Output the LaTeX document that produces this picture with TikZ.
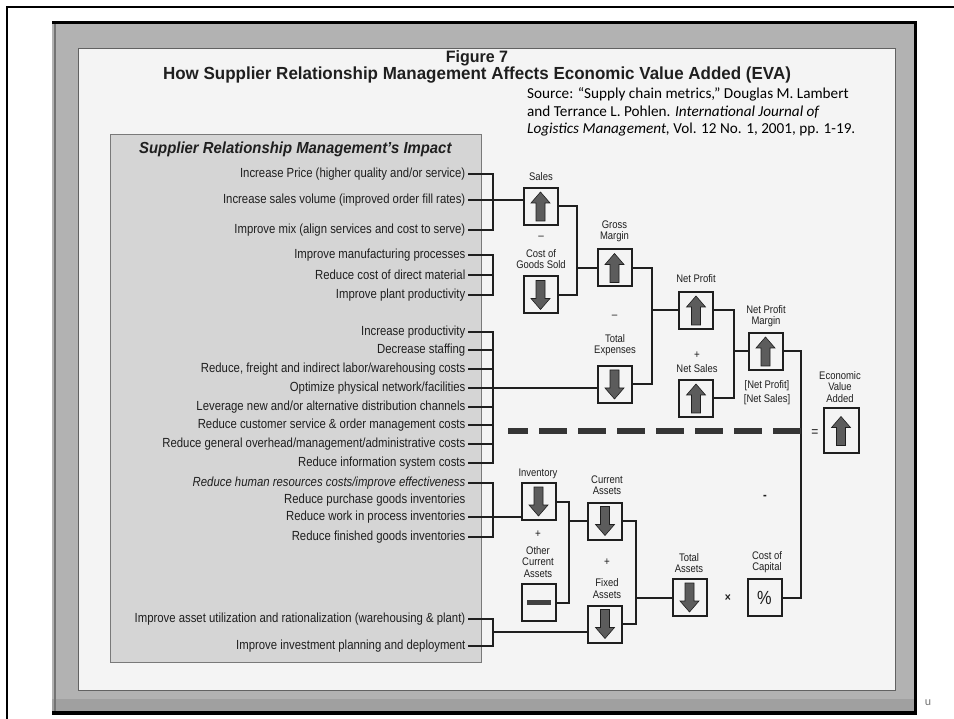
\documentclass[tikz,border=0pt]{standalone}
\usepackage{fontspec}
\setmainfont{Liberation Sans}
\newfontfamily\cond{Liberation Sans}[FakeStretch=0.86]
\newfontfamily\ttl{Liberation Sans}[FakeStretch=0.97]
\newfontfamily\hdrfont{Liberation Sans}[FakeStretch=0.93]
\newfontfamily\srcfont{Carlito}
\usetikzlibrary{calc}

\definecolor{ink}{HTML}{1F1F1F}
\definecolor{panelgray}{HTML}{D5D5D5}
\definecolor{scangray}{HTML}{B2B2B2}
\definecolor{bandgray}{HTML}{A0A0A0}
\definecolor{paper}{HTML}{F4F4F4}
\definecolor{arrowfill}{HTML}{5C5C5C}

\tikzset{
  item/.style={anchor=east, inner ysep=0pt, inner xsep=2.5pt, text=ink,
               font=\cond\fontsize{13.2}{15}\selectfont},
  lbl/.style={inner sep=0pt, align=center, text=ink,
              font=\cond\fontsize{11}{11.2}\selectfont},
  sign/.style={inner sep=0pt, text=ink, font=\cond\fontsize{11.5}{12}\selectfont},
  bx/.style={draw=ink, line width=2pt, fill=paper, minimum width=34pt,
             minimum height=37pt, inner sep=0pt},
  conn/.style={draw=ink, line width=2pt},
  brk/.style={draw=ink, line width=2.6pt},
  tick/.style={draw=ink, line width=1.4pt},
  uparr/.pic={\filldraw[fill=arrowfill, draw=ink, line width=0.6pt]
     (-4.5,14.5) -- (4.5,14.5) -- (4.5,-3.5) -- (9.5,-3.5) -- (0,-14.5)
     -- (-9.5,-3.5) -- (-4.5,-3.5) -- cycle;},
  dnarr/.pic={\filldraw[fill=arrowfill, draw=ink, line width=0.6pt]
     (-4.5,-14.5) -- (4.5,-14.5) -- (4.5,3.5) -- (9.5,3.5) -- (0,14.5)
     -- (-9.5,3.5) -- (-4.5,3.5) -- cycle;},
}

\begin{document}
\begin{tikzpicture}[x=1pt, y=-1pt]
\useasboundingbox (0,0) rectangle (954,719);
\fill[white] (0,0) rectangle (954,719);

% slide border
\draw[black, line width=2.4pt] (7,719) -- (7,7) -- (954,7);

% scanned figure frame
\fill[scangray] (52,21) rectangle (917,715);
\fill[bandgray] (52,699) rectangle (914,711);
\draw[black!55, line width=2.5pt] (55,24) -- (55,711);
\draw[black, line width=3pt] (52,22.5) -- (915.5,22.5) -- (915.5,713);
\draw[black, line width=4pt] (52,713) -- (917,713);
\filldraw[fill=paper, draw=ink!70, line width=0.9pt] (78,48) rectangle (895,690);

% titles
\node[inner sep=0pt, text=ink, font=\ttl\bfseries\fontsize{16.5}{19}\selectfont] (fig) at (477,58) {Figure 7};
\node[inner sep=0pt, text=ink, font=\ttl\bfseries\fontsize{17.5}{20}\selectfont] (title) at (477,75.5)
  {How Supplier Relationship Management Affects Economic Value Added (EVA)};

% source
\node[anchor=north west, inner sep=0pt, align=left, font=\srcfont\fontsize{15.2}{17.6}\selectfont] (src) at (527,87.5)
  {Source: “Supply chain metrics,” Douglas M. Lambert\\
   and Terrance L. Pohlen. \textit{International Journal of}\\
   \textit{Logistics Management,} Vol. 12 No. 1, 2001, pp. 1-19.};

% impact panel
\filldraw[fill=panelgray, draw=ink!60, line width=0.8pt] (110,134) rectangle (481,662);
\node[anchor=west, inner sep=0pt, text=ink, font=\hdrfont\bfseries\itshape\fontsize{16}{18}\selectfont] (hdr) at (139,149)
  {Supplier Relationship Management’s Impact};

\node[item] (i1)  at (468,174) {Increase Price (higher quality and/or service)};
\node[item] (i2)  at (468,200) {Increase sales volume (improved order fill rates)};
\node[item] (i3)  at (468,230) {Improve mix (align services and cost to serve)};
\node[item] (i4)  at (468,255) {Improve manufacturing processes};
\node[item] (i5)  at (468,275) {Reduce cost of direct material};
\node[item] (i6)  at (468,295) {Improve plant productivity};
\node[item] (i7)  at (468,332) {Increase productivity};
\node[item] (i8)  at (468,350) {Decrease staffing};
\node[item] (i9)  at (468,369) {Reduce, freight and indirect labor/warehousing costs};
\node[item] (i10) at (468,388) {Optimize physical network/facilities};
\node[item] (i11) at (468,407) {Leverage new and/or alternative distribution channels};
\node[item] (i12) at (468,425) {Reduce customer service \& order management costs};
\node[item] (i13) at (468,444) {Reduce general overhead/management/administrative costs};
\node[item] (i14) at (468,463) {Reduce information system costs};
\node[item, font=\cond\itshape\fontsize{13.2}{15}\selectfont] (i15) at (468,483) {Reduce human resources costs/improve effectiveness};
\node[item] (i16) at (468,500) {Reduce purchase goods inventories};
\node[item] (i17) at (468,517) {Reduce work in process inventories};
\node[item] (i18) at (468,537) {Reduce finished goods inventories};
\node[item] (i19) at (468,619) {Improve asset utilization and rationalization (warehousing \& plant)};
\node[item] (i20) at (468,646) {Improve investment planning and deployment};

% metric boxes
\node[bx] (sales) at (540.5,206.5) {};
\node[bx] (cogs)  at (540.5,295)   {};
\node[bx] (gm)    at (614.5,268)   {};
\node[bx] (te)    at (614.5,384.5) {};
\node[bx] (np)    at (696,310.5)   {};
\node[bx] (ns)    at (696,398.5)   {};
\node[bx] (npm)   at (765.5,351.5) {};
\node[bx, minimum width=35pt, minimum height=45pt] (eva) at (841,431) {};
\node[bx] (inv)   at (538.5,501.5) {};
\node[bx] (oca)   at (538.5,602.5) {};
\node[bx] (ca)    at (605,521)     {};
\node[bx] (fa)    at (605,624)     {};
\node[bx] (ta)    at (689.5,597.5) {};
\node[bx, font=\cond\fontsize{19}{20}\selectfont, text=ink] (coc) at (764.5,597.5) {\%};

\pic at (sales) {uparr};
\pic at (cogs)  {dnarr};
\pic at (gm)    {uparr};
\pic at (te)    {dnarr};
\pic at (np)    {uparr};
\pic at (ns)    {uparr};
\pic at (npm)   {uparr};
\pic at (eva)   {uparr};
\pic at (inv)   {dnarr};
\pic at (ca)    {dnarr};
\pic at (fa)    {dnarr};
\pic at (ta)    {dnarr};
\fill[ink!85] ($(oca)+(-12,-2.5)$) rectangle ($(oca)+(12,2.5)$);

% labels and operators
\node[lbl] (lsales) at (541,177) {Sales};
\node[sign] (m1) at (541,238) {–};
\node[lbl] (lcogs) at (541,259) {Cost of\\Goods Sold};
\node[lbl] (lgm) at (614.5,231) {Gross\\Margin};
\node[sign] (m2) at (614.5,317) {–};
\node[lbl] (lte) at (615,345) {Total\\Expenses};
\node[lbl] (lnp) at (696,279) {Net Profit};
\node[sign] (p1) at (697,355) {+};
\node[lbl] (lns) at (697,369) {Net Sales};
\node[lbl] (lnpm) at (766,316) {Net Profit\\Margin};
\node[lbl] (frac1) at (767,386) {[Net Profit]};
\node[lbl] (frac2) at (767,400) {[Net Sales]};
\node[lbl] (leva) at (840,387) {Economic\\Value\\Added};
\node[sign, font=\cond\fontsize{14}{15}\selectfont] (eq) at (815,433) {=};
\node[sign, font=\cond\bfseries\fontsize{13}{14}\selectfont] (m3) at (765,497) {-};
\node[lbl] (linv) at (538,474) {Inventory};
\node[sign] (p2) at (538,534) {+};
\node[lbl] (loca) at (538,562) {Other\\Current\\Assets};
\node[lbl] (lca) at (607,485.5) {Current\\Assets};
\node[sign] (p3) at (607,562) {+};
\node[lbl] (lfa) at (607,588.5) {Fixed\\Assets};
\node[lbl] (lta) at (689,563) {Total\\Assets};
\node[sign, font=\cond\bfseries\fontsize{12}{13}\selectfont] (x1) at (728,598) {×};
\node[lbl] (lcoc) at (767,562) {Cost of\\Capital};
\node[text=black!55, inner sep=0pt, font=\srcfont\fontsize{12}{13}\selectfont] (pg) at (928,703) {u};

% junction points
\coordinate (gA) at (493,200);
\coordinate (gB) at (493,275);
\coordinate (gC) at (493,388);
\coordinate (gD) at (493,514);
\coordinate (gE) at (493,632);
\coordinate (jgm)  at (577,268);
\coordinate (jnp)  at (652,310.5);
\coordinate (jnpm) at (734,351.5);
\coordinate (jeva) at (801,431);
\coordinate (jca)  at (569,521);
\coordinate (jta)  at (636,597.5);
\coordinate (dstart) at (508,431);

% brackets from the impact list
\draw[brk] (i1.east) -| (gA) |- (i3.east);
\draw[conn] (i2.east) -- (i2.east -| sales.west);
\draw[brk] (i4.east) -| (gB) |- (i6.east);
\draw[brk] (i5.east) -- (gB);
\draw[brk] (i7.east) -| (gC) |- (i14.east);
\foreach \k in {8,9,11,12,13} \draw[tick] (i\k.east) -- (i\k.east -| gC);
\draw[conn] (i10.east) -- (i10.east -| te.west);
\draw[brk] (i15.east) -| (gD) |- (i18.east);
\draw[conn] (i17.east) -- (i17.east -| inv.west);
\draw[brk] (i19.east) -| (gE) |- (i20.east);
\draw[conn] (gE) -- (gE -| fa.west);

% profit tree
\draw[conn] (sales.east) -| (jgm) |- (cogs.east);
\draw[conn] (jgm) -- (gm.west);
\draw[conn] (gm.east) -| (jnp) |- (te.east);
\draw[conn] (jnp) -- (np.west);
\draw[conn] (np.east) -| (jnpm) |- (ns.east);
\draw[conn] (jnpm) -- (npm.west);
\draw[conn] (npm.east) -| (jeva) |- (coc.east);

% asset tree
\draw[conn] (inv.east) -| (jca) |- (oca.east);
\draw[conn] (jca) -- (ca.west);
\draw[conn] (ca.east) -| (jta) |- (fa.east);
\draw[conn] (jta) -- (ta.west);

% separator between the two halves
\draw[draw=ink!90, line width=6pt, dash pattern=on 28pt off 11pt, dash phase=8pt] (dstart) -- (jeva);
\end{tikzpicture}
\end{document}
